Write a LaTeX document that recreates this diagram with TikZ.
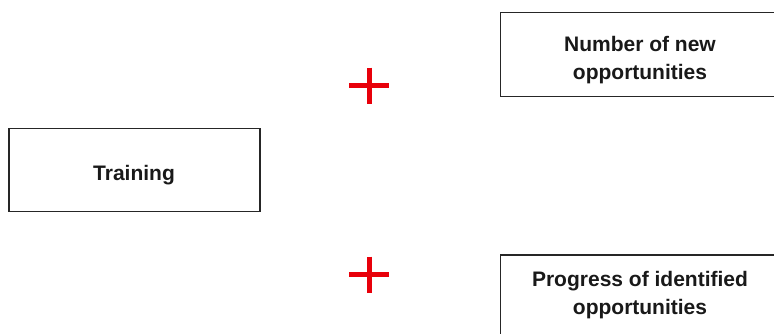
\documentclass[tikz,border=0pt]{standalone}
\usepackage{fontspec}
\setmainfont{Liberation Sans}
\definecolor{plusred}{RGB}{232,0,10}
\begin{document}
\begin{tikzpicture}[x=1pt,y=-1pt,
  box/.style={draw=black!85,line width=1.2pt,fill=white,rectangle,inner sep=0pt},
  lbl/.style={align=center,inner sep=0pt,anchor=base,
    font=\fontsize{21}{27.3}\selectfont\bfseries,text=black!90},
  plus/.style={draw=plusred,line width=5pt}]
\useasboundingbox (0,0) rectangle (774,333);
\clip (0,0) rectangle (774,333);
% factor on the left
\node[box,minimum width=251pt,minimum height=83pt] (training) at (134.5,170) {};
\node[lbl] (trainingtext) at (134,180) {Training};
% two outcome boxes on the right, running past the edges
% (the base anchor of a two-line label sits on its last line)
\node[box,minimum width=280pt,minimum height=84pt] (newopp) at (640.5,54.5) {};
\node[lbl] (newopptext) at (640,79) {Number of new\\opportunities};
\node[box,minimum width=280pt,minimum height=84pt] (progress) at (640.5,297) {};
\node[lbl] (progresstext) at (640,314) {Progress of identified\\opportunities};
% plus signs
\coordinate (p1) at (369.3,85.5);
\coordinate (p2) at (369.3,274.5);
\foreach \p in {p1,p2}{
  \draw[plus] ([xshift=-20pt]\p) -- ([xshift=20pt]\p);
  \draw[plus] ([yshift=18pt]\p) -- ([yshift=-18pt]\p);
}
\end{tikzpicture}
\end{document}
